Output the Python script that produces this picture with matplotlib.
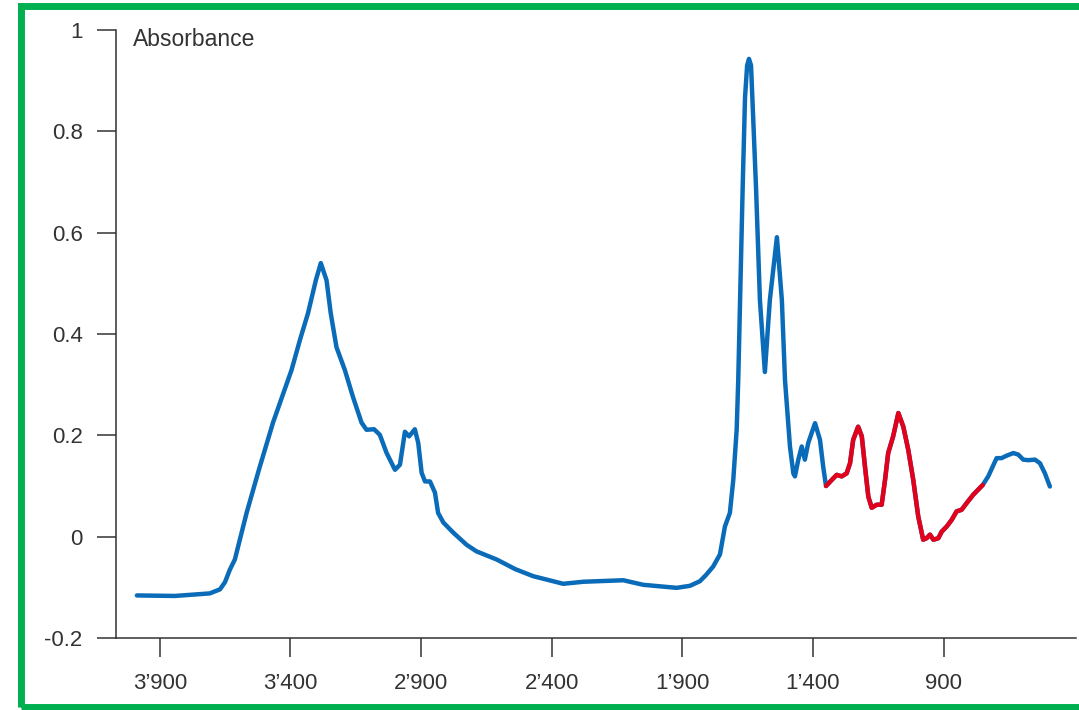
import numpy as np
import matplotlib.pyplot as plt
from matplotlib.patches import Rectangle

# Spectrum (wavenumber in cm-1, absorbance)
wavenumber = [3988, 3843, 3709, 3670, 3651, 3632, 3613, 3568, 3521, 3467, 3396,
              3364, 3333, 3303, 3284, 3262, 3246, 3224, 3192, 3161, 3128,
              3109, 3080, 3058, 3032, 3000, 2981, 2962, 2946, 2924, 2911,
              2898, 2885, 2866, 2847, 2835, 2815, 2777, 2726, 2688, 2611,
              2540, 2471, 2356, 2279, 2126, 2050, 1922, 1871, 1833, 1810, 1782, 1756,
              1737, 1718, 1705, 1692, 1686, 1669, 1660, 1652, 1645, 1637,
              1632, 1618, 1603, 1584, 1565, 1538, 1519, 1507, 1488, 1475,
              1469, 1456, 1443, 1431, 1418, 1392, 1373, 1361, 1350, 1328,
              1309, 1290, 1271, 1258, 1246, 1227, 1213, 1201, 1188, 1175,
              1156, 1137, 1124, 1112, 1093, 1073, 1054, 1035, 1016, 997,
              978, 965, 952, 939, 920, 907, 888, 869, 850, 831,
              812, 786, 767, 750, 729, 697, 678, 658, 633, 614,
              595, 576, 550, 531, 512, 493]
absorbance = [-0.116, -0.117, -0.112, -0.104, -0.090, -0.065, -0.045, 0.047, 0.132, 0.225, 0.329,
              0.388, 0.441, 0.506, 0.540, 0.506, 0.441, 0.374, 0.329, 0.276, 0.225,
              0.211, 0.212, 0.201, 0.165, 0.132, 0.142, 0.207, 0.198, 0.212, 0.185,
              0.126, 0.109, 0.109, 0.087, 0.047, 0.028, 0.008, -0.016, -0.029, -0.045,
              -0.064, -0.078, -0.093, -0.089, -0.086, -0.095, -0.101, -0.097, -0.088, -0.076, -0.059, -0.035,
              0.020, 0.047, 0.112, 0.211, 0.309, 0.690, 0.867, 0.930, 0.943, 0.930,
              0.867, 0.690, 0.467, 0.325, 0.467, 0.591, 0.467, 0.309, 0.178, 0.125,
              0.119, 0.152, 0.178, 0.152, 0.185, 0.224, 0.191, 0.139, 0.100, 0.112,
              0.122, 0.119, 0.125, 0.145, 0.191, 0.217, 0.198, 0.139, 0.079, 0.057,
              0.063, 0.063, 0.112, 0.165, 0.198, 0.244, 0.217, 0.171, 0.112, 0.040,
              -0.006, -0.003, 0.004, -0.006, -0.003, 0.010, 0.020, 0.033, 0.050, 0.053,
              0.066, 0.083, 0.093, 0.102, 0.119, 0.155, 0.155, 0.160, 0.165, 0.162,
              0.152, 0.151, 0.152, 0.145, 0.125, 0.099]

# highlighted (red) region
red_start, red_end = 1350, 750

xticks = [3900, 3400, 2900, 2400, 1900, 1400, 900]
xtick_labels = ['3\u2019900', '3\u2019400', '2\u2019900', '2\u2019400', '1\u2019900', '1\u2019400', '900']
yticks = [-0.2, 0, 0.2, 0.4, 0.6, 0.8, 1]
ytick_labels = ['-0.2', '0', '0.2', '0.4', '0.6', '0.8', '1']

plt.rcParams['font.family'] = ['Liberation Sans', 'DejaVu Sans']

w = np.array(wavenumber)
a = np.array(absorbance)
mask = (w <= red_start) & (w >= red_end)

fig = plt.figure(figsize=(10.79, 7.10), dpi=100)
ax = fig.add_axes([116 / 1079, 1 - 638 / 710, 960 / 1079, 608 / 710])

ax.plot(w, a, color='#0a6bb8', lw=3.2, solid_capstyle='round', solid_joinstyle='round')
ax.plot(w[mask], a[mask], color='#e2001a', lw=3.2, solid_capstyle='round', solid_joinstyle='round')

ax.set_xlim(4068, 393)
ax.set_ylim(-0.2, 1.0)
ax.set_xticks(xticks)
ax.set_xticklabels(xtick_labels)
ax.set_yticks(yticks)
ax.set_yticklabels(ytick_labels)

for side in ['top', 'right']:
    ax.spines[side].set_visible(False)
for side in ['left', 'bottom']:
    ax.spines[side].set_color('#333333')
    ax.spines[side].set_linewidth(1.1)

ax.tick_params(axis='both', direction='out', length=14, width=1.1, color='#333333',
               labelsize=16, labelcolor='#333333')
ax.tick_params(axis='y', pad=10)
ax.tick_params(axis='x', pad=11)

ax.text(0.0177, 0.985, 'Absorbance', transform=ax.transAxes, fontsize=16.5,
        color='#333333', va='center', ha='left')

# green frame round the picture
fig.patches.append(Rectangle((21 / 1079, 3 / 710), 1.2, 701 / 710, transform=fig.transFigure,
                             fill=False, edgecolor='#00b050', lw=5, zorder=10))

fig.savefig('out.png', dpi=100)
